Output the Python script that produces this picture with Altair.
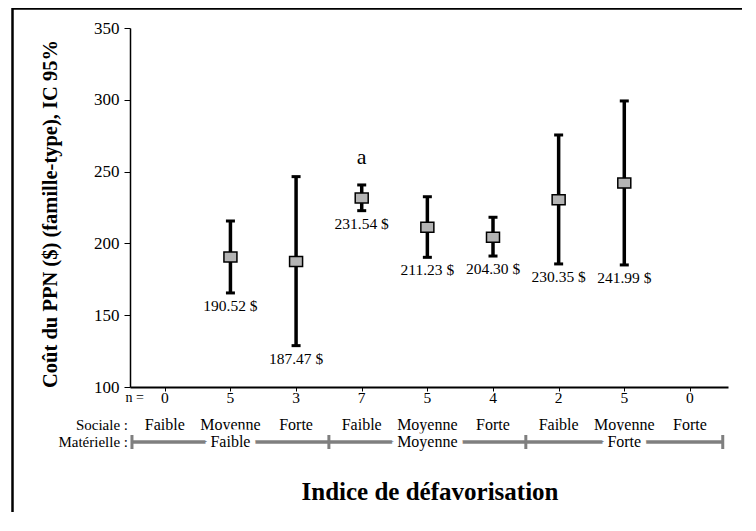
import altair as alt
import pandas as pd

# ---- data ----
idx = [1, 2, 3, 4, 5, 6, 7, 8, 9]
sociale = ["Faible", "Moyenne", "Forte", "Faible", "Moyenne", "Forte", "Faible", "Moyenne", "Forte"]
materielle = ["Faible", "Moyenne", "Forte"]
n_vals = [0, 5, 3, 7, 5, 4, 2, 5, 0]
means = [None, 190.52, 187.47, 231.54, 211.23, 204.30, 230.35, 241.99, None]
lows = [None, 165.5, 128.8, 222.8, 190.3, 191.2, 185.7, 185.0, None]
highs = [None, 215.6, 246.5, 240.7, 232.5, 218.2, 275.5, 299.2, None]
notes = ["", "", "", "a", "", "", "", "", ""]
y_ticks = [100, 150, 200, 250, 300, 350]

FONT = "Liberation Serif"

df = pd.DataFrame({"i": idx, "soc": sociale, "n": [str(v) for v in n_vals],
                   "mean": means, "low": lows, "high": highs, "note": notes})
df["lbl"] = [f"{m:.2f} $" if m is not None else "" for m in means]
stats = df.dropna(subset=["mean"])

groups = pd.DataFrame({
    "g": materielle,
    "start": [3 * k + 0.5 for k in range(3)],
    "end": [3 * k + 3.5 for k in range(3)],
    "center": [3 * k + 2 for k in range(3)],
})
edges = pd.DataFrame({"e": sorted(set(groups["start"]).union(groups["end"]))})

xs = alt.Scale(domain=[0.47, 9.58], nice=False, zero=False)
ys = alt.Scale(domain=[100, 350], nice=False, zero=False)

X = alt.X("i:Q", scale=xs,
          axis=alt.Axis(values=idx, labels=False, title=None, grid=False, tickSize=4,
                        tickColor="black", domainColor="black", domainWidth=2))
Y_axis = alt.Axis(values=y_ticks, title=None, grid=False, tickSize=6, tickColor="black",
                  domainColor="black", domainWidth=1.5, labelPadding=5,
                  labelFont=FONT, labelFontSize=17, labelColor="black")

base = alt.Chart(stats)

bars = base.mark_rule(color="black", strokeWidth=3.5).encode(
    x=X, y=alt.Y("low:Q", scale=ys, axis=Y_axis), y2="high:Q")
cap_lo = base.mark_tick(orient="horizontal", color="black", size=9, thickness=3, opacity=1).encode(
    x="i:Q", y="low:Q")
cap_hi = base.mark_tick(orient="horizontal", color="black", size=9, thickness=3, opacity=1).encode(
    x="i:Q", y="high:Q")
pts = base.mark_point(shape="M-1.3,-1L1.3,-1L1.3,1L-1.3,1Z", size=100, filled=True,
                      fill="#b4b4b4", stroke="black", strokeWidth=1.5, opacity=1).encode(
    x="i:Q", y="mean:Q")
vlabels = base.mark_text(dy=13, font=FONT, fontSize=15.5, color="black").encode(
    x="i:Q", y="low:Q", text="lbl:N")
note = base.mark_text(dy=-28, font=FONT, fontSize=22, color="black").encode(
    x="i:Q", y="high:Q", text="note:N")

nrow = alt.Chart(df).mark_text(font=FONT, fontSize=15.5, color="black", baseline="middle").encode(
    x="i:Q", y=alt.value(370), text="n:N")
srow = alt.Chart(df).mark_text(font=FONT, fontSize=16, color="black", baseline="middle").encode(
    x="i:Q", y=alt.value(397), text="soc:N")

heads = pd.DataFrame({"t": ["Sociale :", "Matérielle :"], "yy": [397, 414]})
head_txt = alt.Chart(heads).mark_text(font=FONT, fontSize=15, color="black", align="right",
                                      baseline="middle").encode(
    x=alt.value(-2), y=alt.Y("yy:Q", scale=None), text="t:N")
neq = alt.Chart(pd.DataFrame({"t": ["n ="]})).mark_text(
    font=FONT, fontSize=14, color="black", align="right", baseline="middle").encode(
    x=alt.value(14), y=alt.value(370), text="t:N")

GRAY = "#7f7f7f"
bline = alt.Chart(groups).mark_rule(color=GRAY, strokeWidth=3.5).encode(
    x="start:Q", x2="end:Q", y=alt.value(414))
bticks = alt.Chart(edges).mark_rule(color=GRAY, strokeWidth=3).encode(
    x="e:Q", y=alt.value(407), y2=alt.value(421))
gmask = alt.Chart(groups).mark_text(font=FONT, fontSize=16, color="white", stroke="white",
                                    strokeWidth=11, baseline="middle").encode(
    x="center:Q", y=alt.value(414), text="g:N")
glab = alt.Chart(groups).mark_text(font=FONT, fontSize=16, color="black", baseline="middle").encode(
    x="center:Q", y=alt.value(414), text="g:N")

xtitle = alt.Chart(pd.DataFrame({"t": ["Indice de défavorisation"]})).mark_text(
    font=FONT, fontSize=25, fontWeight="bold", color="black", baseline="middle").encode(
    x=alt.value(300), y=alt.value(464), text="t:N")
ytitle = alt.Chart(pd.DataFrame({"t": ["Coût du PPN ($) (famille-type), IC 95%"]})).mark_text(
    font=FONT, fontSize=20.5, fontWeight="bold", color="black", angle=270, baseline="middle").encode(
    x=alt.value(-79), y=alt.value(186), text="t:N")

frame_top = alt.Chart(pd.DataFrame({"k": [0]})).mark_rule(color="black", strokeWidth=2.5).encode(
    x=alt.value(-118), x2=alt.value(620), y=alt.value(-19.5))
frame_left = alt.Chart(pd.DataFrame({"k": [0]})).mark_rule(color="black", strokeWidth=2.5).encode(
    x=alt.value(-117.5), y=alt.value(-20), y2=alt.value(490))

chart = alt.layer(
    frame_top, frame_left,
    bars, cap_lo, cap_hi, pts, vlabels, note,
    nrow, srow, head_txt, neq,
    bline, bticks, gmask, glab,
    xtitle, ytitle,
).properties(
    width=598, height=359,
    padding={"left": 122, "top": 20, "right": 14, "bottom": 125},
    autosize=alt.AutoSizeParams(type="none"),
    background="white",
).configure_view(stroke=None)

chart.save("out.html", embed_options={"renderer": "svg", "actions": False})
